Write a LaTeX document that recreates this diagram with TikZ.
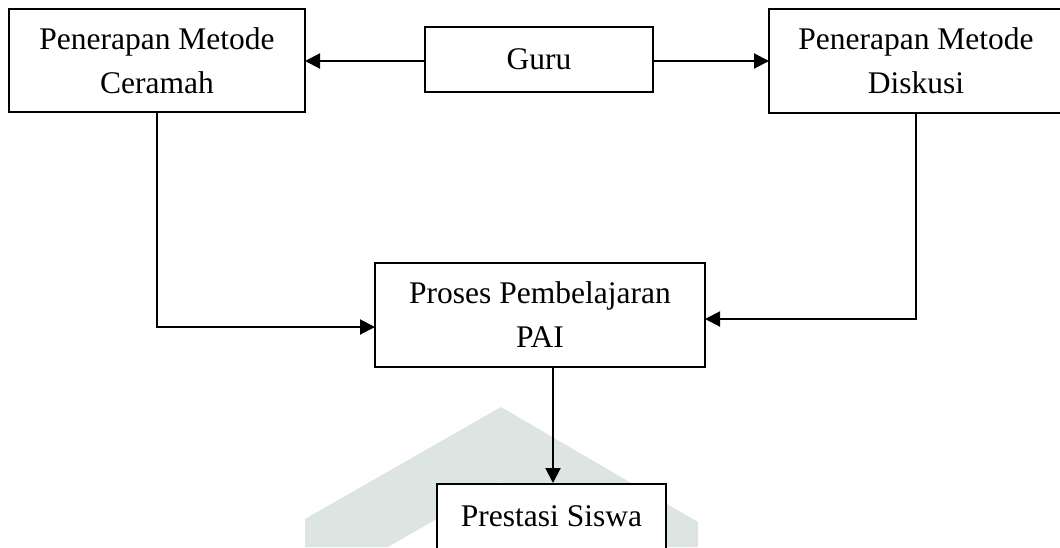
\documentclass[tikz,border=0pt]{standalone}
\usepackage{fontspec}
\setmainfont{Liberation Serif}
\usetikzlibrary{arrows.meta,positioning}
\definecolor{wmark}{HTML}{DCE5E2}
\tikzset{
  box/.style={draw=black, fill=white, line width=2.2pt, inner sep=0pt, align=center,
    font=\fontsize{31.5}{44}\selectfont},
  conn/.style={line width=2pt, -{Triangle[length=15pt,width=15pt]}},
}
\begin{document}
\begin{tikzpicture}[x=1pt,y=-1pt]
\useasboundingbox (0,0) rectangle (1060,547);
\clip (0,0) rectangle (1060,547);
% watermark
\fill[wmark] (305,547) -- (305,519) -- (501,407) -- (698,522) -- (698,547)
  -- (615,547) -- (501,482) -- (388,547) -- cycle;
% boxes
\node[box, minimum width=296pt, minimum height=103pt] (cer) at (157,60.5) {Penerapan Metode\\Ceramah};
\node[box, minimum width=228pt, minimum height=65pt] (guru) at (539,59.5) {Guru};
\node[box, minimum width=294pt, minimum height=104pt] (dis) at (916,61) {Penerapan Metode\\Diskusi};
\node[box, minimum width=330pt, minimum height=104pt] (proses) at (540,315) {Proses Pembelajaran\\PAI};
\node[box, minimum width=229pt, minimum height=65pt, anchor=north] (pres) at (551.5,483) {Prestasi Siswa};
% connector end points
\coordinate (pl) at (375,327);
\coordinate (pr) at (705,319);
\coordinate (gl) at (425,61);
\coordinate (gr) at (653,61);
\coordinate (cl) at (305,61);
\coordinate (dl) at (769,61);
\coordinate (pb) at (553,367);
\coordinate (pt) at (553,483);
% connectors
\draw[conn] (gl) -- (cl);
\draw[conn] (gr) -- (dl);
\draw[conn] (cer.south) |- (pl);
\draw[conn] (dis.south) |- (pr);
\draw[conn] (pb) -- (pt);
\end{tikzpicture}
\end{document}
